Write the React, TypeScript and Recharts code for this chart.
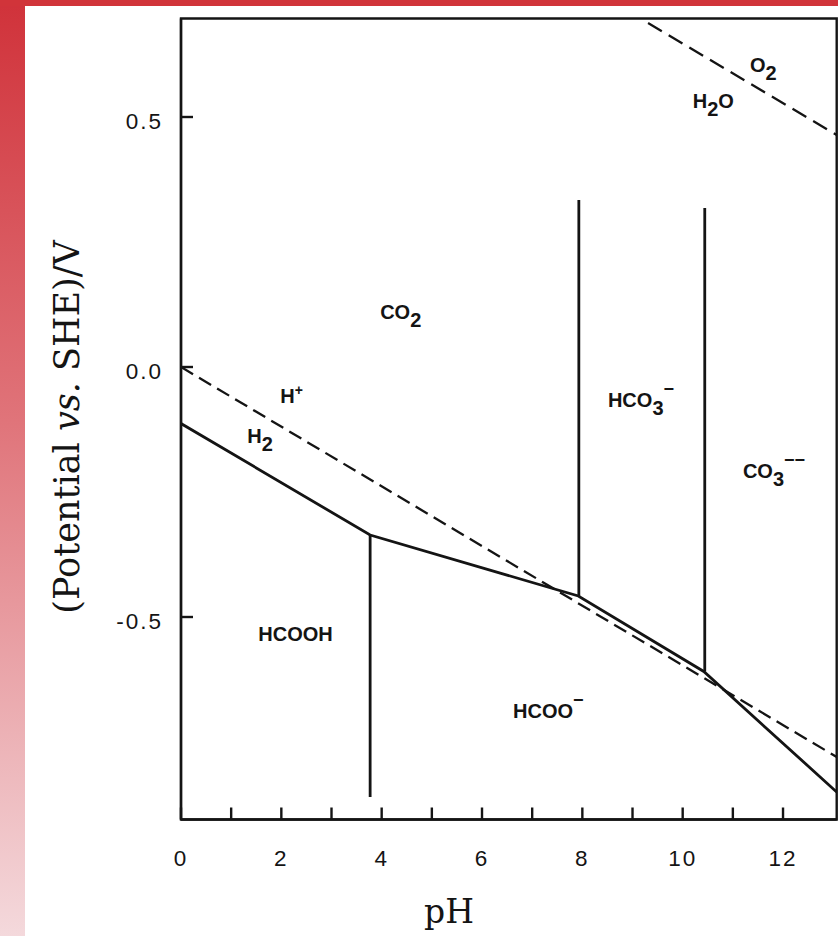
import { ComposedChart, Line, Scatter, XAxis, YAxis, ReferenceArea } from 'recharts';

const W = 838;
const H = 936;

// axis ranges
const phRange = [0, 13.07];
const eRange = [-0.905, 0.697];
const phTicks = [0, 1, 2, 3, 4, 5, 6, 7, 8, 9, 10, 11, 12];
const eTicks = [-0.5, 0, 0.5];

// CO2 / HCOOH / HCOO- reduction boundary (solid)
const formatePH = [0, 3.77, 7.92, 10.42, 13.07];
const formateE = [-0.113, -0.336, -0.458, -0.609, -0.85];

// vertical acid/base boundaries
const pkaPH = [3.77, 7.93, 10.44];
const pkaTop = [-0.336, 0.334, 0.318];
const pkaBottom = [-0.86, -0.458, -0.609];

// water stability lines (dashed)
const hydrogenPH = [0, 13.07];
const hydrogenE = [0, -0.78];
const oxygenPH = [9.31, 13.07];
const oxygenE = [0.688, 0.464];

// region labels: _ = subscript char, ^ = superscript rest
const speciesNames = ['O_2', 'H_2O', 'CO_2', 'H^+', 'H_2', 'HCO_3^−', 'CO_3^−−', 'HCOOH', 'HCOO^−'];
const speciesPH = [11.34, 10.2, 3.97, 1.98, 1.32, 8.51, 11.2, 1.54, 6.62];
const speciesE = [0.59, 0.518, 0.096, -0.072, -0.152, -0.08, -0.222, -0.548, -0.702];

const toPoints = (xs: number[], ys: number[]) => xs.map((x, i) => ({ x, y: ys[i] }));

const formateLine = toPoints(formatePH, formateE);
const pkaLines = pkaPH.map((x, i) => [
  { x, y: pkaTop[i] },
  { x, y: pkaBottom[i] },
]);
const hydrogenLine = toPoints(hydrogenPH, hydrogenE);
const oxygenLine = toPoints(oxygenPH, oxygenE);
const speciesData = speciesNames.map((name, i) => ({ x: speciesPH[i], y: speciesE[i], name }));

const INK = '#141414';
const tickFont = "'Liberation Sans', Arial, sans-serif";
const labelFont = "'Liberation Sans', Arial, sans-serif";
const titleFont = "'DejaVu Serif', 'Liberation Serif', serif";

type Seg = { t: string; k: 'b' | 'sub' | 'sup' };

function parseFormula(s: string): Seg[] {
  const segs: Seg[] = [];
  let i = 0;
  while (i < s.length) {
    const c = s[i];
    if (c === '_') {
      segs.push({ t: s[i + 1], k: 'sub' });
      i += 2;
    } else if (c === '^') {
      segs.push({ t: s.slice(i + 1), k: 'sup' });
      break;
    } else {
      const last = segs[segs.length - 1];
      if (last && last.k === 'b') last.t += c;
      else segs.push({ t: c, k: 'b' });
      i++;
    }
  }
  return segs;
}

const SpeciesLabel = (props: any) => {
  const { cx, cy, payload } = props;
  const segs = parseFormula(payload.name);
  let cur = 0;
  return (
    <text x={cx} y={cy} fontFamily={labelFont} fontSize={20} fontWeight="bold" fill={INK}>
      {segs.map((s, i) => {
        const target = s.k === 'sub' ? 8 : s.k === 'sup' ? (s.t === '+' ? -8 : -12) : 0;
        const dy = target - cur;
        cur = target;
        const size = s.k === 'sup' ? (s.t === '+' ? 14 : 18) : 20;
        return (
          <tspan key={i} dy={dy} fontSize={size}>
            {s.t}
          </tspan>
        );
      })}
    </text>
  );
};

const XTick = (props: any) => {
  const { x, y, payload } = props;
  if (payload.value % 2 !== 0) return <g />;
  return (
    <text
      x={x}
      y={y}
      dy="0.36em"
      textAnchor="middle"
      fontFamily={tickFont}
      fontSize={22.5}
      letterSpacing={2}
      fill={INK}
    >
      {payload.value}
    </text>
  );
};

const YTick = (props: any) => {
  const { x, y, payload } = props;
  return (
    <text
      x={x}
      y={y + 4}
      dy="0.36em"
      textAnchor="end"
      fontFamily={tickFont}
      fontSize={22.5}
      letterSpacing={2}
      fill={INK}
    >
      {Number(payload.value).toFixed(1)}
    </text>
  );
};

const XTitle = () => (
  <text x={449} y={923} textAnchor="middle" fontFamily={titleFont} fontSize={33} fill={INK}>
    pH
  </text>
);

const YTitle = () => (
  <text
    x={79}
    y={427}
    transform="rotate(-90, 79, 427)"
    textAnchor="middle"
    fontFamily={titleFont}
    fontSize={35}
    fill={INK}
  >
    (Potential <tspan fontStyle="italic">vs.</tspan> SHE)/V
  </text>
);

export default function App() {
  return (
    <div
      style={{
        position: 'fixed',
        left: 0,
        top: 0,
        width: W,
        height: H,
        background: '#ffffff',
        overflow: 'hidden',
      }}
    >
      <div
        style={{
          position: 'absolute',
          left: 0,
          top: 0,
          width: 25,
          height: H,
          background: 'linear-gradient(to bottom, #d0323a, #e0747a 45%, #f4d9dc)',
        }}
      />
      <div style={{ position: 'absolute', left: 0, top: 0, width: W, height: 6, background: '#d1343a' }} />
      <div style={{ position: 'absolute', left: 0, top: 0 }}>
        <ComposedChart width={W} height={H} margin={{ top: 18.5, right: 1.3, left: 1, bottom: 56.5 }}>
          <XAxis
            type="number"
            dataKey="x"
            domain={phRange}
            allowDataOverflow
            ticks={phTicks}
            interval={0}
            height={60}
            tickSize={-12}
            tickMargin={50}
            tick={<XTick />}
            stroke={INK}
            strokeWidth={2.4}
            label={{ content: XTitle }}
          />
          <YAxis
            type="number"
            dataKey="y"
            domain={eRange}
            allowDataOverflow
            ticks={eTicks}
            interval={0}
            width={180}
            tickSize={-12}
            tickMargin={30}
            tick={<YTick />}
            stroke={INK}
            strokeWidth={2.4}
            label={{ content: YTitle }}
          />
          <ReferenceArea
            x1={phRange[0]}
            x2={phRange[1]}
            y1={eRange[0]}
            y2={eRange[1]}
            fill="none"
            fillOpacity={0}
            stroke={INK}
            strokeWidth={2.4}
            ifOverflow="visible"
          />
          <Line
            data={hydrogenLine}
            dataKey="y"
            type="linear"
            stroke={INK}
            strokeWidth={2.3}
            strokeDasharray="14 7"
            dot={false}
            activeDot={false}
            isAnimationActive={false}
          />
          <Line
            data={oxygenLine}
            dataKey="y"
            type="linear"
            stroke={INK}
            strokeWidth={2.3}
            strokeDasharray="16 8"
            dot={false}
            activeDot={false}
            isAnimationActive={false}
          />
          <Line
            data={formateLine}
            dataKey="y"
            type="linear"
            stroke={INK}
            strokeWidth={2.8}
            dot={false}
            activeDot={false}
            isAnimationActive={false}
          />
          {pkaLines.map((seg, i) => (
            <Line
              key={i}
              data={seg}
              dataKey="y"
              type="linear"
              stroke={INK}
              strokeWidth={2.8}
              dot={false}
              activeDot={false}
              isAnimationActive={false}
            />
          ))}
          <Scatter data={speciesData} dataKey="y" shape={SpeciesLabel} isAnimationActive={false} />
        </ComposedChart>
      </div>
    </div>
  );
}
